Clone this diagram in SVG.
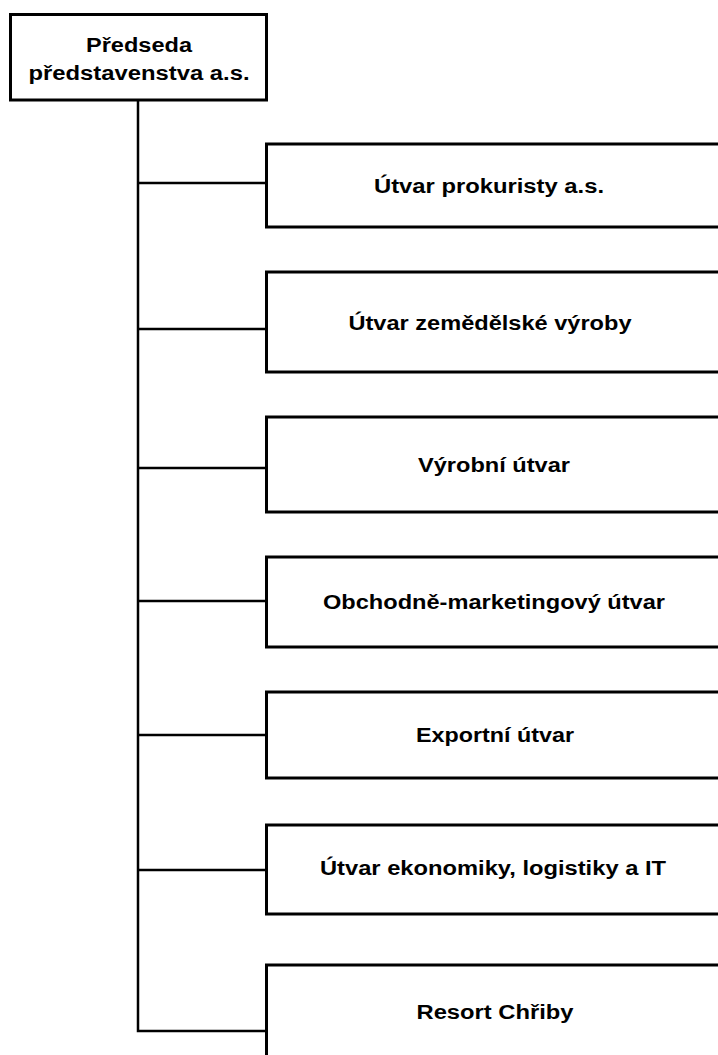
<svg xmlns="http://www.w3.org/2000/svg" width="718" height="1055" viewBox="0 0 718 1055">
<style>
.box{fill:#fff;stroke:#000;stroke-width:3}
.lbl{font-family:"Liberation Sans",Arial,sans-serif;font-weight:bold;font-size:20px;fill:#000;text-anchor:middle}
.con{fill:none;stroke:#000;stroke-width:2.5}
</style>
<rect width="718" height="1055" fill="#fff"/>
<g id="connectors">
<path class="con" d="M138,100 V1031 H266"/>
<path class="con" d="M138,183 H266"/>
<path class="con" d="M138,329 H266"/>
<path class="con" d="M138,468 H266"/>
<path class="con" d="M138,601 H266"/>
<path class="con" d="M138,735 H266"/>
<path class="con" d="M138,870 H266"/>
</g>
<g id="n0">
<rect class="box" x="10.5" y="14.5" width="256" height="85.5"/>
<text class="lbl" x="139" y="52" textLength="106" lengthAdjust="spacingAndGlyphs">Předseda</text>
<text class="lbl" x="139" y="80" textLength="221" lengthAdjust="spacingAndGlyphs">představenstva a.s.</text>
</g>
<g id="n1">
<rect class="box" x="266.5" y="144" width="470" height="83"/>
<text class="lbl" x="489" y="193" textLength="230" lengthAdjust="spacingAndGlyphs">Útvar prokuristy a.s.</text>
</g>
<g id="n2">
<rect class="box" x="266.5" y="272" width="470" height="100"/>
<text class="lbl" x="490" y="330" textLength="283" lengthAdjust="spacingAndGlyphs">Útvar zemědělské výroby</text>
</g>
<g id="n3">
<rect class="box" x="266.5" y="417" width="470" height="95"/>
<text class="lbl" x="494" y="472" textLength="152" lengthAdjust="spacingAndGlyphs">Výrobní útvar</text>
</g>
<g id="n4">
<rect class="box" x="266.5" y="557" width="470" height="90"/>
<text class="lbl" x="494" y="609" textLength="342" lengthAdjust="spacingAndGlyphs">Obchodně-marketingový útvar</text>
</g>
<g id="n5">
<rect class="box" x="266.5" y="692" width="470" height="86"/>
<text class="lbl" x="495" y="742" textLength="158" lengthAdjust="spacingAndGlyphs">Exportní útvar</text>
</g>
<g id="n6">
<rect class="box" x="266.5" y="825" width="470" height="89"/>
<text class="lbl" x="493" y="875" textLength="346" lengthAdjust="spacingAndGlyphs">Útvar ekonomiky, logistiky a IT</text>
</g>
<g id="n7">
<rect class="box" x="266.5" y="965" width="470" height="120"/>
<text class="lbl" x="495" y="1019" textLength="157" lengthAdjust="spacingAndGlyphs">Resort Chřiby</text>
</g>
</svg>
